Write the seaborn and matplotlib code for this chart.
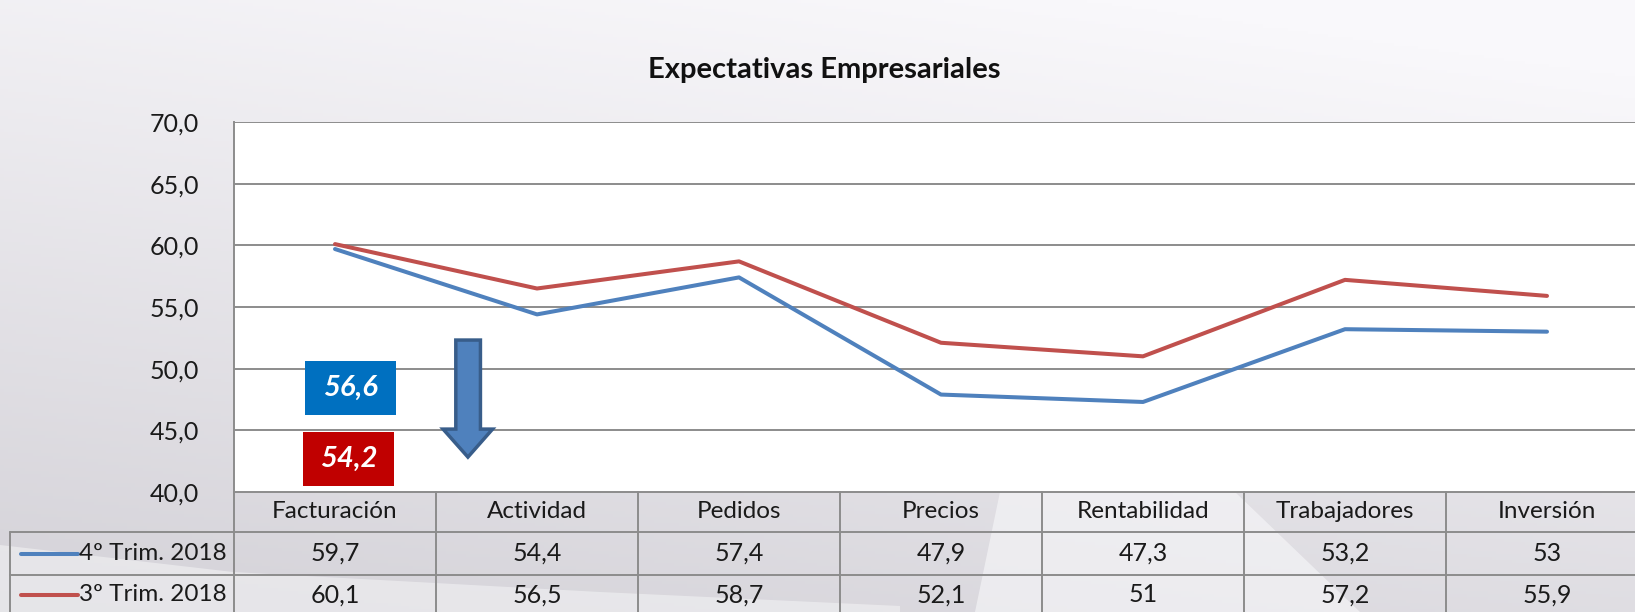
import numpy as np
import pandas as pd
import matplotlib
matplotlib.use("Agg")
import matplotlib.pyplot as plt
import seaborn as sns
from matplotlib.patches import Polygon, Rectangle
from matplotlib.transforms import blended_transform_factory

# ---------------- data ----------------
titulo = "Expectativas Empresariales"
categorias = ["Facturación", "Actividad", "Pedidos", "Precios",
              "Rentabilidad", "Trabajadores", "Inversión"]
serie_4t = [59.7, 54.4, 57.4, 47.9, 47.3, 53.2, 53.0]
serie_3t = [60.1, 56.5, 58.7, 52.1, 51.0, 57.2, 55.9]
nombres_series = ["4º Trim. 2018", "3º Trim. 2018"]
media_4t = "56,6"
media_3t = "54,2"
y_ticks = [40, 45, 50, 55, 60, 65, 70]

colores = {nombres_series[0]: "#4F81BD", nombres_series[1]: "#C0504D"}

def fmt(v):
    return f"{v:g}".replace(".", ",")

df = pd.DataFrame({
    "pos": list(range(len(categorias))) * 2,
    "valor": serie_4t + serie_3t,
    "serie": [nombres_series[0]] * len(categorias) + [nombres_series[1]] * len(categorias),
})

# ---------------- figure ----------------
sns.set_theme(style="white")
plt.rcParams["font.family"] = ["Lato", "DejaVu Sans"]

W, H = 1635, 612
fig = plt.figure(figsize=(W / 100, H / 100), dpi=100)

# background gradient
bg = fig.add_axes([0, 0, 1, 1], zorder=-10)
yy, xx = np.mgrid[0:1:200j, 0:1:400j]
t = np.clip(0.8 * yy + 0.3 * (1 - xx) - 0.1, 0, 1)
top = np.array([249, 248, 251]) / 255
bot = np.array([212, 210, 216]) / 255
img = top[None, None, :] + t[..., None] * (bot - top)[None, None, :]
bg.imshow(img, extent=[0, W, H, 0], aspect="auto")
bg.add_patch(Polygon([(0, 545), (233, 572), (600, 592), (900, 606), (900, 612), (0, 612)],
                     closed=True, facecolor="#f2f2f4", edgecolor="none", alpha=0.6))
bg.add_patch(Polygon([(1000, 492), (1235, 492), (1360, 612), (975, 612)],
                     closed=True, facecolor="#f8f8fa", edgecolor="none", alpha=0.6))
bg.set_xlim(0, W)
bg.set_ylim(H, 0)
bg.axis("off")

# main axes
left_px, top_px, bottom_px = 234, 122, 492
col_w = 202
ax = fig.add_axes([left_px / W, 1 - bottom_px / H, 7 * col_w / W, (bottom_px - top_px) / H])
ax.set_facecolor("white")

sns.lineplot(data=df, x="pos", y="valor", hue="serie", palette=colores,
             hue_order=[nombres_series[1], nombres_series[0]],
             linewidth=2.9, legend=False, sort=False, ax=ax)

ax.set_xlim(-0.5, len(categorias) - 0.5)
ax.set_ylim(y_ticks[0], y_ticks[-1])
ax.set_yticks(y_ticks)
ax.set_yticklabels([f"{v:.1f}".replace(".", ",") for v in y_ticks])
ax.set_xticks([])
ax.set_xlabel("")
ax.set_ylabel("")
ax.tick_params(axis="y", length=0, pad=25, labelsize=18, labelcolor="#1a1a1a")
ax.grid(False)
for v in y_ticks[1:]:
    ax.axhline(v, color="#8c8c8c", lw=1.4, zorder=0.5)
for s in ["top", "right", "bottom"]:
    ax.spines[s].set_visible(False)
ax.spines["left"].set_color("#8c8c8c")
ax.spines["left"].set_linewidth(1.4)

# boxes with averages
ax.add_patch(Rectangle((-0.149, 46.24), 0.449, 4.36, facecolor="#0070C0", edgecolor="none", zorder=3))
ax.text(0.075, 48.42, media_4t, color="white", fontsize=21, fontweight="bold",
        fontstyle="italic", ha="center", va="center", zorder=4)
ax.add_patch(Rectangle((-0.158, 40.5), 0.45, 4.36, facecolor="#C00000", edgecolor="none", zorder=3))
ax.text(0.067, 42.68, media_3t, color="white", fontsize=21, fontweight="bold",
        fontstyle="italic", ha="center", va="center", zorder=4)

# down arrow
arrow = Polygon([(0.598, 52.32), (0.72, 52.32), (0.72, 45.1), (0.78, 45.1),
                 (0.658, 42.83), (0.535, 45.1), (0.598, 45.1)], closed=True,
                facecolor="#4F81BD", edgecolor="#385D8A", lw=2.5, zorder=3)
ax.add_patch(arrow)

# title
fig.text(824 / W, 1 - 70 / H, titulo, ha="center", va="center", fontsize=21,
         fontweight="bold", color="#111111")

# ---------------- data table ----------------
tr = blended_transform_factory(ax.transData, ax.transAxes)
ah = bottom_px - top_px
r1 = -40 / ah
r2 = -83 / ah
r3 = -126 / ah
leg_left = (10 - left_px) / col_w - 0.5
xmax = len(categorias) - 0.5
lc = "#8c8c8c"
lw = 1.4

def hline(x0, x1, y):
    ax.plot([x0, x1], [y, y], color=lc, lw=lw, transform=tr, clip_on=False, zorder=2)

def vline(x, y0, y1):
    ax.plot([x, x], [y0, y1], color=lc, lw=lw, transform=tr, clip_on=False, zorder=2)

hline(-0.5, xmax, 0)
hline(leg_left, xmax, r1)
hline(leg_left, xmax, r2)
for i in range(len(categorias) + 1):
    vline(i - 0.5, 0, r3)
vline(leg_left, r1, r3)

yc_head = (0 + r1) / 2
yc_1 = (r1 + r2) / 2
yc_2 = (r2 + r3) / 2 + 0.005
for i, c in enumerate(categorias):
    ax.text(i, yc_head, c, transform=tr, ha="center", va="center", fontsize=17.5,
            color="#1a1a1a", clip_on=False)
    ax.text(i, yc_1, fmt(serie_4t[i]), transform=tr, ha="center", va="center",
            fontsize=18, color="#1a1a1a", clip_on=False)
    ax.text(i, yc_2, fmt(serie_3t[i]), transform=tr, ha="center", va="center",
            fontsize=18, color="#1a1a1a", clip_on=False)

sx0 = (21 - left_px) / col_w - 0.5
sx1 = (78 - left_px) / col_w - 0.5
for nombre, yc in zip(nombres_series, [yc_1, yc_2]):
    ax.plot([sx0, sx1], [yc, yc], color=colores[nombre], lw=2.9, solid_capstyle="round",
            transform=tr, clip_on=False)
    ax.text(sx1 + 0.003, yc, nombre, transform=tr, ha="left", va="center",
            fontsize=17.5, color="#1a1a1a", clip_on=False)

fig.savefig("out.png", dpi=100)
